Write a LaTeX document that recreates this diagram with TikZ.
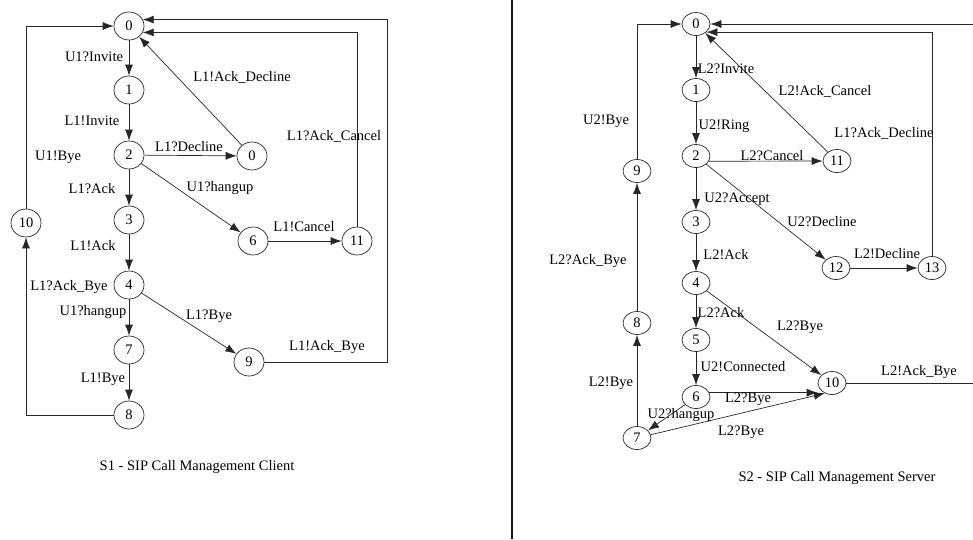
\documentclass[tikz,border=0pt]{standalone}
\usepackage{fontspec}
\setmainfont{Liberation Serif}
\usetikzlibrary{shapes.geometric,arrows.meta}
\begin{document}
\begin{tikzpicture}[x=1pt,y=-1pt,
  st/.style={draw=black!85, line width=0.7pt, ellipse, minimum width=30pt, minimum height=28pt, inner sep=0pt, font=\fontsize{14.5}{16}\selectfont},
  sr/.style={st, minimum width=28pt, minimum height=23pt},
  lb/.style={inner sep=0pt, font=\fontsize{14.5}{16}\selectfont},
  arr/.style={draw=black!85, line width=0.7pt, -{Latex[length=11pt,width=8pt]}},
  ttl/.style={inner sep=0pt, font=\fontsize{14.5}{16}\selectfont}]
\useasboundingbox (0,0) rectangle (973,539);

% ---------- S1 ----------
\node[st] (a0) at (129,26) {0};
\node[st] (a1) at (129,90) {1};
\node[st] (a2) at (129,155) {2};
\node[st] (a3) at (129,220) {3};
\node[st] (a4) at (129,285) {4};
\node[st] (a7) at (129,350) {7};
\node[st] (a8) at (129,415) {8};
\node[st] (a10) at (26,223) {10};
\node[st] (a0b) at (252,156) {0};
\node[st] (a6) at (253,241) {6};
\node[st] (a11) at (357,241) {11};
\node[st] (a9) at (249,362) {9};
\coordinate (c9) at (387,362);

\draw[arr] (a0) -- (a1);
\draw[arr] (a1) -- (a2);
\draw[arr] (a2) -- (a3);
\draw[arr] (a3) -- (a4);
\draw[arr] (a4) -- (a7);
\draw[arr] (a7) -- (a8);
\draw[arr] (a8.west) -| (a10.south);
\draw[arr] (a10.north) |- (a0.west);
\draw[arr] (a2) -- (a0b);
\draw[arr] (a0b) -- (a0);
\draw[arr] (a2) -- (a6);
\draw[arr] (a6) -- (a11);
\draw[arr] (a11.north) |- (a0.-25);
\draw[arr] (a4) -- (a9);
\draw[arr] (a9.east) -- (c9) |- (a0.25);

\node[lb] (l1) at (94,57) {U1?Invite};
\node[lb] (l2) at (92,121) {L1!Invite};
\node[lb] (l3) at (92,189) {L1?Ack};
\node[lb] (l4) at (93,246) {L1!Ack};
\node[lb] (l5) at (69,287) {L1?Ack\_Bye};
\node[lb] (l6) at (93,312) {U1?hangup};
\node[lb] (l7) at (103,379) {L1!Bye};
\node[lb] (l8) at (58,157) {U1!Bye};
\node[lb] (l9) at (189,147) {L1?Decline};
\node[lb] (l10) at (242,77) {L1!Ack\_Decline};
\node[lb] (l11) at (220,188) {U1?hangup};
\node[lb] (l12) at (304,227) {L1!Cancel};
\node[lb] (l13) at (334,136) {L1?Ack\_Cancel};
\node[lb] (l14) at (209,316) {L1?Bye};
\node[lb] (l15) at (327,347) {L1!Ack\_Bye};
\node[ttl] (t1) at (197,467) {S1 - SIP Call Management Client};

% ---------- divider ----------
\coordinate (dTop) at (512,0);
\coordinate (dBot) at (512,539);
\draw[line width=2.2pt, black!90] (dTop) -- (dBot);

% ---------- S2 ----------
\node[sr] (b0) at (696,24) {0};
\node[sr] (b1) at (696,90) {1};
\node[sr] (b2) at (696,156) {2};
\node[sr] (b3) at (696,222) {3};
\node[sr] (b4) at (696,283) {4};
\node[sr] (b5) at (696,340) {5};
\node[sr] (b6) at (696,397) {6};
\node[sr] (b7) at (637,438) {7};
\node[sr] (b8) at (637,323) {8};
\node[sr] (b9) at (637,171) {9};
\node[sr] (b10) at (832,383) {10};
\node[sr] (b11) at (837,161) {11};
\node[sr] (b12) at (836,268) {12};
\node[sr] (b13) at (932,268) {13};
\coordinate (cR) at (990,383);

\draw[arr] (b0) -- (b1);
\draw[arr] (b1) -- (b2);
\draw[arr] (b2) -- (b3);
\draw[arr] (b3) -- (b4);
\draw[arr] (b4) -- (b5);
\draw[arr] (b5) -- (b6);
\draw[arr] (b2.-22) -- (b11);
\draw[arr] (b11) -- (b0);
\draw[arr] (b2) -- (b12);
\draw[arr] (b12) -- (b13);
\draw[arr] (b13.north) |- (b0.-38);
\draw[arr] (b4) -- (b10);
\draw[arr] (b6.18) -- (b6.18 -| b10.west);
\draw[arr] (b7) -- (b10.-125);
\draw[arr] (b6) -- (b7);
\draw[arr] (b7) -- (b8);
\draw[arr] (b8) -- (b9);
\draw[arr] (b9.north) |- (b0.west);
\draw[arr] (b10.east) -- (cR) |- (b0.east);

\node[lb] (m1) at (606,121) {U2!Bye};
\node[lb] (m2) at (726,69) {L2?Invite};
\node[lb] (m3) at (724,126) {U2!Ring};
\node[lb] (m4) at (772,156) {L2?Cancel};
\node[lb] (m5) at (825,91) {L2!Ack\_Cancel};
\node[lb] (m6) at (884,133) {L1?Ack\_Decline};
\node[lb] (m7) at (737,199) {U2?Accept};
\node[lb] (m8) at (822,222) {U2?Decline};
\node[lb] (m9) at (726,255) {L2!Ack};
\node[lb] (m10) at (887,254) {L2!Decline};
\node[lb] (m11) at (721,313) {L2?Ack};
\node[lb] (m12) at (800,327) {L2?Bye};
\node[lb] (m13) at (743,367) {U2!Connected};
\node[lb] (m14) at (919,372) {L2!Ack\_Bye};
\node[lb] (m15) at (748,399) {L2?Bye};
\node[lb] (m16) at (741,432) {L2?Bye};
\node[lb] (m17) at (681,415) {U2?hangup};
\node[lb] (m18) at (611,383) {L2!Bye};
\node[lb] (m19) at (588,261) {L2?Ack\_Bye};
\node[ttl] (t2) at (837,478) {S2 - SIP Call Management Server};
\end{tikzpicture}
\end{document}
